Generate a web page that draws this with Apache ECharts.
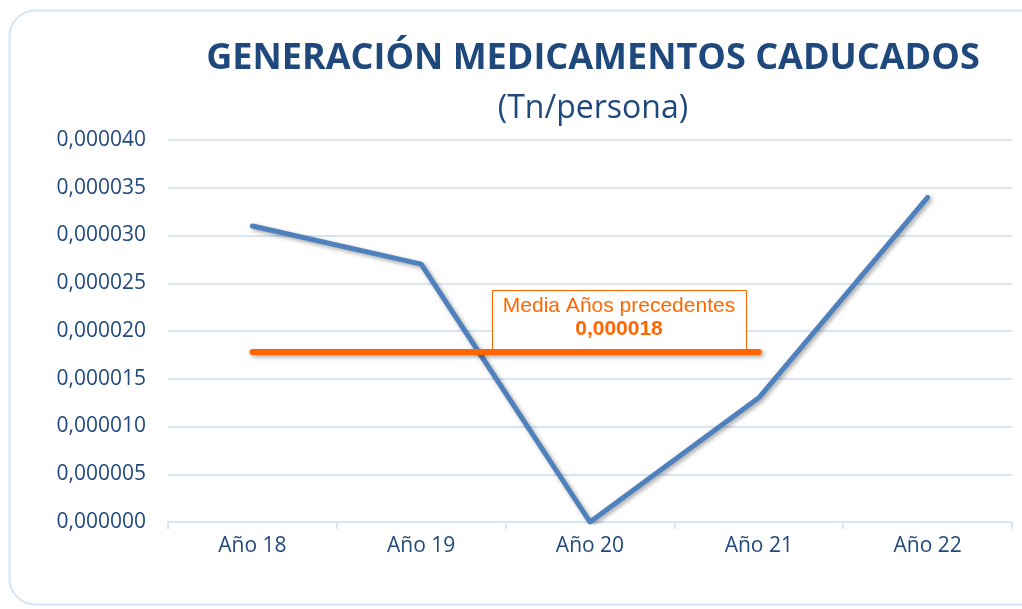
<!DOCTYPE html>
<html lang="es">
<head>
    <meta charset="UTF-8">
    <title>Generación medicamentos caducados</title>
    <script src="https://cdn.jsdelivr.net/npm/echarts@6/dist/echarts.min.js"></script>
    <style>
        * { margin: 0; padding: 0; box-sizing: border-box; }
        body { background: #ffffff; }
        #chart { width: 1022px; height: 609px; }
    </style>
</head>
<body>
    <div id="chart"></div>

    <script>
        // datos
        const categories = ['Año 18', 'Año 19', 'Año 20', 'Año 21', 'Año 22'];
        const values = [0.000031, 0.000027, 0.000000, 0.000013, 0.000034];
        const mediaValues = [0.0000178, 0.0000178, 0.0000178, 0.0000178, null];
        const mediaLabel = '0,000018';

        const fmt = v => v.toFixed(6).replace('.', ',');
        const blueText = '#1F497D';
        const gridBlue = '#D9E4F4';

        const chart = echarts.init(document.getElementById('chart'));
        chart.setOption({
            animation: false,
            title: [{
                text: 'GENERACIÓN MEDICAMENTOS CADUCADOS',
                left: 588, top: 36, textAlign: 'center',
                textStyle: { fontFamily: 'Open Sans', fontSize: 36, fontWeight: 'bold', color: '#1F497D' }
            }, {
                text: '(Tn/persona)',
                left: 588, top: 88, textAlign: 'center',
                textStyle: { fontFamily: 'Open Sans', fontSize: 32, fontWeight: 'normal', color: '#1F497D' }
            }],
            graphic: [{
                type: 'rect',
                shape: { x: 9.5, y: 10.5, width: 1040, height: 594, r: 26 },
                style: { fill: 'none', stroke: '#D6E3F4', lineWidth: 2 },
                z: -1
            }, {
                type: 'rect',
                shape: { x: 492.5, y: 290.5, width: 254, height: 59 },
                style: { fill: '#ffffff', stroke: '#FF6600', lineWidth: 1 },
                z: 10
            }, {
                type: 'text',
                x: 619, y: 296,
                style: {
                    text: 'Media Años precedentes',
                    fill: '#FF6600', font: '21px "Liberation Sans"', align: 'center'
                },
                z: 11
            }, {
                type: 'text',
                x: 619, y: 319,
                style: {
                    text: mediaLabel,
                    fill: '#FF6600', font: 'bold 21px "Liberation Sans"', align: 'center'
                },
                z: 11
            }],
            grid: { left: 168, right: 10, top: 140, bottom: 87 },
            xAxis: {
                type: 'category',
                data: categories,
                boundaryGap: true,
                axisLine: { lineStyle: { color: gridBlue, width: 2 } },
                axisTick: { show: true, length: 7, lineStyle: { color: gridBlue, width: 2 } },
                axisLabel: { color: blueText, fontFamily: 'Open Sans', fontSize: 21, margin: 14 }
            },
            yAxis: {
                type: 'value',
                min: 0, max: 0.00004, interval: 0.000005,
                axisLine: { show: false },
                axisTick: { show: false },
                splitLine: { lineStyle: { color: gridBlue, width: 2 } },
                axisLabel: { color: blueText, fontFamily: 'Open Sans', fontSize: 21, margin: 22, formatter: fmt }
            },
            series: [{
                type: 'line',
                data: values,
                symbol: 'none',
                lineStyle: {
                    color: '#4F81BD', width: 5, cap: 'round', join: 'round',
                    shadowColor: 'rgba(0,0,0,0.35)', shadowBlur: 4, shadowOffsetX: 2, shadowOffsetY: 2
                },
                z: 3
            }, {
                type: 'line',
                data: mediaValues,
                symbol: 'none',
                lineStyle: {
                    color: '#FF6600', width: 6, cap: 'round',
                    shadowColor: 'rgba(0,0,0,0.35)', shadowBlur: 4, shadowOffsetX: 2, shadowOffsetY: 2
                },
                z: 4
            }]
        });
    </script>
</body>
</html>
